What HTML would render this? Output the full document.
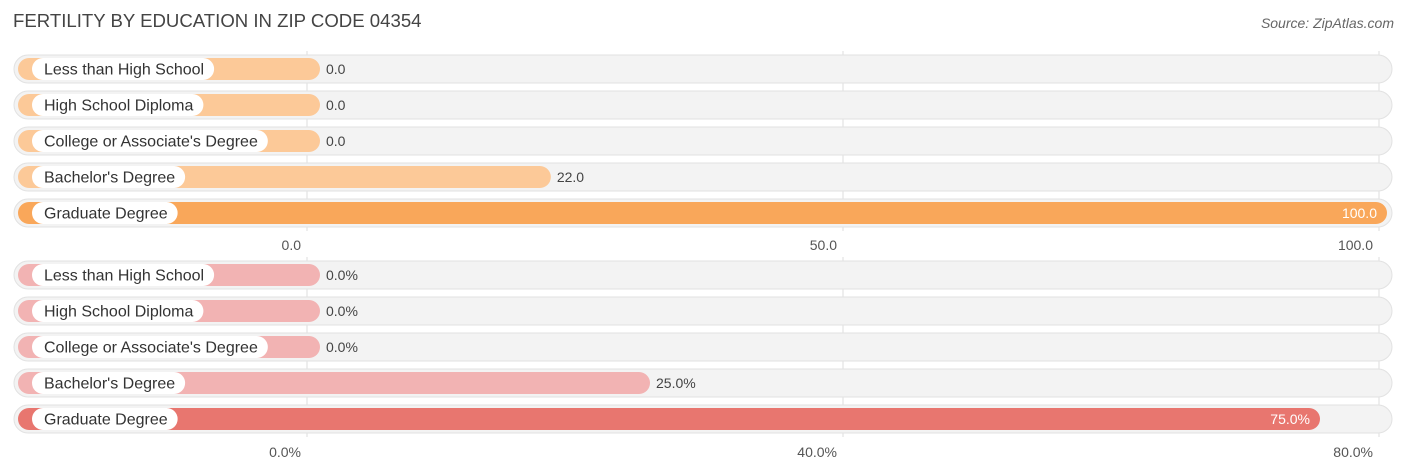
<!DOCTYPE html>
<html><head><meta charset="utf-8"><style>
body{margin:0;width:1406px;height:475px;background:#fff;font-family:"Liberation Sans",sans-serif;position:relative;overflow:hidden}
.t{position:absolute;white-space:nowrap}
</style></head><body>
<div class="t" style="left:13px;top:10px;font-size:18.6px;color:#444">FERTILITY BY EDUCATION IN ZIP CODE 04354</div>
<div class="t" style="right:12px;top:15px;font-size:14px;color:#666;font-style:italic">Source: ZipAtlas.com</div>
<svg id="c" width="1406" height="475" style="position:absolute;left:0;top:0"></svg>
<script>
const categories=["Less than High School","High School Diploma","College or Associate's Degree","Bachelor's Degree","Graduate Degree"];
const valuesTop=[0,0,0,22,100];
const valuesBottom=[0,0,0,25,75];
const ticksTop=[0,50,100];
const ticksBottom=[0,40,80];
const NS="http://www.w3.org/2000/svg";
const svg=document.getElementById('c');
function mk(t,a,p){const e=document.createElementNS(NS,t);for(const k in a)e.setAttribute(k,a[k]);(p||svg).appendChild(e);return e;}
function panel(vals,ticks,y0,axisY,light,dark,suffix){
  const max=ticks[ticks.length-1];
  const x=v=>307+v/max*1072;
  const g=mk('g',{});
  
  
  ticks.forEach(t=>{
    const l=mk('line',{x1:x(t),x2:x(t),y1:y0-18,y2:y0+4*36+18,stroke:'#ddd','stroke-width':1},g);
    
    
    const tx=mk('text',{x:x(t)-6,y:axisY,'text-anchor':'end','font-size':14,fill:'#555'},g);
    tx.textContent=t.toFixed(1)+suffix;
    
    
  });
  vals.forEach((v,i)=>{
    const cy=y0+i*36;
    const bg=mk('rect',{x:14,y:cy-14,width:1378,height:28,rx:14,fill:'#f3f3f3',stroke:'#e2e2e2'},g);
    
    
    const end=Math.max(x(v)+8,320);
    const last=i===vals.length-1;
    const b=mk('rect',{x:18,y:cy-11,width:end-18,height:22,rx:11,fill:last?dark:light},g);
    
    
    const p=mk('rect',{x:32,y:cy-11,width:100,height:22,rx:11,fill:'#fff'},g);
    
    
    const lt=mk('text',{x:44,y:cy+5.5,'font-size':16,fill:'#333'},g);
    lt.textContent=categories[i];
    
    
    p.setAttribute('width',lt.getComputedTextLength()+22);
    const inside=v/max>0.8;
    const vt=mk('text',{x:inside?end-10:end+6,y:cy+5,'font-size':14,fill:inside?'#fff':'#444','text-anchor':inside?'end':'start'},g);
    vt.textContent=v.toFixed(1)+suffix;
    
    
  });
}
panel(valuesTop,ticksTop,69,250,'#fcc998','#f9a75a','');
panel(valuesBottom,ticksBottom,275,457,'#f2b3b3','#e8766f','%');
</script>
</body></html>
